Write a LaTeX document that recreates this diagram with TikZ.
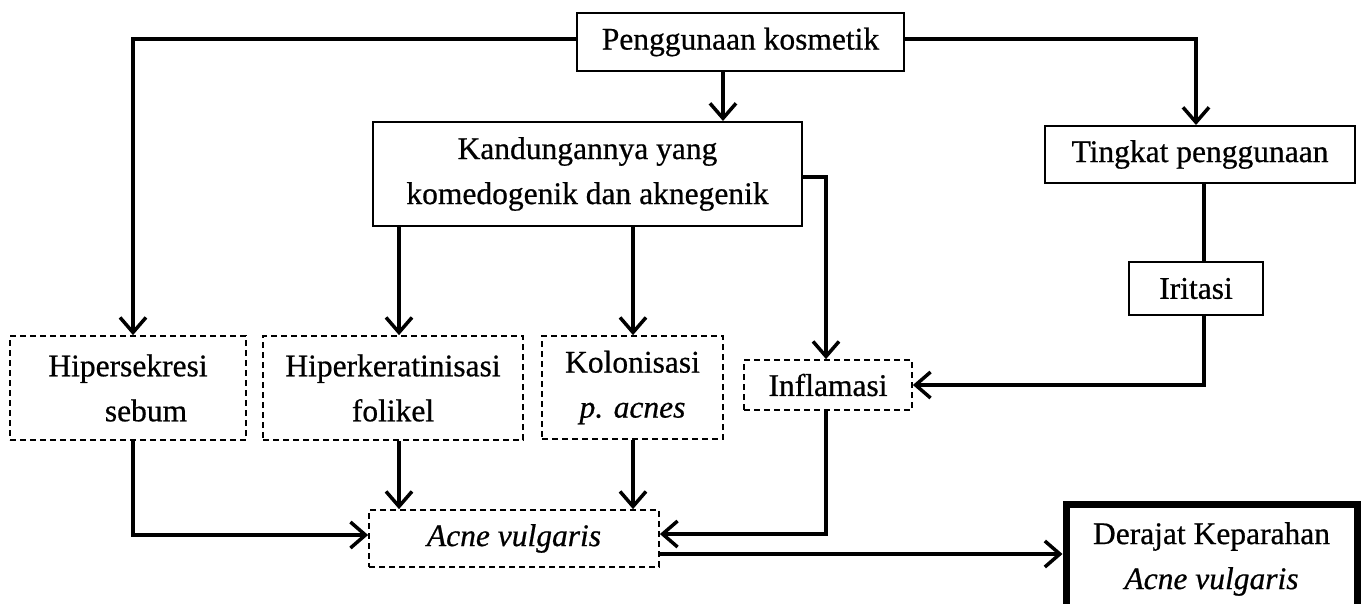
\documentclass[tikz,border=0pt]{standalone}
\usepackage{fontspec}
\setmainfont[FakeBold=0.6]{Liberation Serif}
\usetikzlibrary{arrows.meta}
\begin{document}
\begin{tikzpicture}[x=1pt,y=-1pt,
  every node/.style={font=\fontsize{31.5}{45}\selectfont, align=center, inner sep=0pt},
  solidbox/.style={draw, line width=2pt, rectangle},
  dashbox/.style={draw, line width=1.8pt, dash pattern=on 6pt off 4pt, rectangle},
  thickbox/.style={draw, line width=7pt, rectangle},
  conn/.style={line width=3.5pt, -{Straight Barb[length=15pt,width=26pt,line width=3.5pt]}},
  plain/.style={line width=3.5pt}]
\useasboundingbox (0,0) rectangle (1364,603);
\fill[white] (0,0) rectangle (1364,603);
% nodes
\node[solidbox, minimum width=327pt, minimum height=58pt] (pk) at (740.5,42) {Penggunaan kosmetik};
\node[solidbox, minimum width=429pt, minimum height=104pt] (kand) at (587.5,174) {Kandungannya yang\\komedogenik dan aknegenik};
\node[solidbox, minimum width=310pt, minimum height=57pt] (ting) at (1200,154.5) {Tingkat penggunaan};
\node[solidbox, minimum width=134pt, minimum height=53pt] (irit) at (1196,288.5) {Iritasi};
\node[dashbox, minimum width=236pt, minimum height=104pt] (hipse) at (128,388) {Hipersekresi\\\hspace{36pt}sebum};
\node[dashbox, minimum width=260pt, minimum height=104pt] (hiperk) at (393,388) {Hiperkeratinisasi\\folikel};
\node[dashbox, minimum width=181pt, minimum height=103pt] (kolon) at (632.5,387.5) {Kolonisasi\\\textit{p. acnes}};
\node[dashbox, minimum width=168pt, minimum height=50pt] (infl) at (828,385) {Inflamasi};
\node[dashbox, minimum width=290pt, minimum height=57pt] (acne) at (514,538.5) {\textit{Acne vulgaris}};
\node[thickbox, minimum width=291pt, minimum height=110pt] (deraj) at (1211.5,559) {Derajat Keparahan\\\textit{Acne vulgaris}};
% connectors
\draw[conn] ([yshift=3pt]pk.west) -| ([xshift=5pt]hipse.north);
\draw[conn] ([yshift=3pt]pk.east) -| ([xshift=-4pt]ting.north);
\draw[conn] (pk.south -| 723,0) -- (kand.north -| 723,0);
\draw[conn] (kand.south -| 399,0) -- (hiperk.north -| 399,0);
\draw[conn] (kand.south -| 633,0) -- (kolon.north -| 633,0);
\draw[conn] ([yshift=-3pt]kand.east) -| (infl.north -| 826,0);
\draw[plain] (ting.south -| 1204,0) -- (irit.north -| 1204,0);
\draw[conn] (irit.south -| 1204,0) |- (infl.east);
\draw[conn] ([xshift=5pt]hipse.south) |- ([yshift=3.5pt]acne.west);
\draw[conn] (hiperk.south -| 399,0) -- (acne.north -| 399,0);
\draw[conn] (kolon.south -| 633,0) -- (acne.north -| 633,0);
\draw[conn] (infl.south -| 826,0) |- ([yshift=4.5pt]acne.east);
\draw[conn] ([yshift=-15.5pt]acne.east) -- ([yshift=-15.5pt]acne.east -| deraj.west);
\end{tikzpicture}
\end{document}
